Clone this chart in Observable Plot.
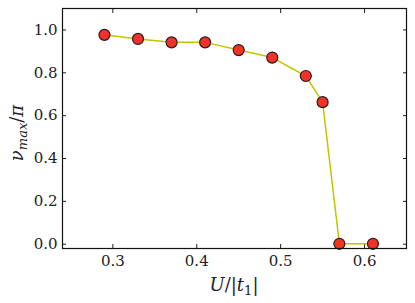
<!DOCTYPE html>
<html><head><meta charset="utf-8">
<script src="https://cdn.jsdelivr.net/npm/d3@7"></script>
<script src="https://cdn.jsdelivr.net/npm/@observablehq/plot@0.6"></script>
<style>body{margin:0;background:#fff}</style>
</head><body><div id="chart"></div>
<script>
const U = [0.29, 0.33, 0.37, 0.41, 0.45, 0.49, 0.53, 0.55, 0.57, 0.61];
const nuMax = [0.977, 0.958, 0.942, 0.942, 0.906, 0.871, 0.785, 0.663, 0.002, 0.002];
const xTicks = [0.3, 0.4, 0.5, 0.6];
const yTicks = [0.0, 0.2, 0.4, 0.6, 0.8, 1.0];
const data = U.map((u, i) => ({u, v: nuMax[i]}));
const font = "DejaVu Serif";
const plot = Plot.plot({
  width: 415, height: 303,
  marginLeft: 62, marginRight: 9, marginTop: 8, marginBottom: 55,
  style: {fontFamily: font, fontSize: "15px", color: "#222", background: "#fff"},
  x: {domain: [0.24, 0.65]},
  y: {domain: [-0.02, 1.1]},
  marks: [
    Plot.axisX(xTicks, {anchor: "bottom", tickSize: -4, tickPadding: 11, fontSize: 15, tickFormat: d => d.toFixed(1), label: null}),
    Plot.axisX(xTicks, {anchor: "top", tickSize: -4, tickFormat: () => "", label: null}),
    Plot.axisY(yTicks, {anchor: "left", tickSize: -4, tickPadding: 9, fontSize: 15, tickFormat: d => d.toFixed(1), label: null}),
    Plot.axisY(yTicks, {anchor: "right", tickSize: -4, tickFormat: () => "", label: null}),
    Plot.line(data, {x: "u", y: "v", stroke: "#c4c400", strokeWidth: 1.5}),
    Plot.dot(data, {x: "u", y: "v", r: 5.5, fill: "#f2322a", stroke: "#2a1a1a", strokeWidth: 1.2}),
    Plot.frame({stroke: "#111", strokeWidth: 1.2})
  ]
});
document.getElementById("chart").append(plot);
const svg = d3.select(plot);
const yl = svg.append("text").attr("transform", "translate(23,133) rotate(-90)")
  .attr("text-anchor", "middle").attr("font-family", font).attr("font-size", 18).attr("fill", "#222");
yl.append("tspan").attr("font-style", "italic").text("ν");
yl.append("tspan").attr("font-style", "italic").attr("font-size", 13).attr("dy", 4).text("max");
yl.append("tspan").attr("dy", -4).text("/");
yl.append("tspan").attr("font-style", "italic").text("π");
const xl = svg.append("text").attr("x", 234).attr("y", 291)
  .attr("text-anchor", "middle").attr("font-family", font).attr("font-size", 18).attr("fill", "#222");
xl.append("tspan").attr("font-style", "italic").text("U");
xl.append("tspan").text("/|");
xl.append("tspan").attr("font-style", "italic").text("t");
xl.append("tspan").attr("font-size", 13).attr("dy", 4).text("1");
xl.append("tspan").attr("dy", -4).text("|");
</script></body></html>
